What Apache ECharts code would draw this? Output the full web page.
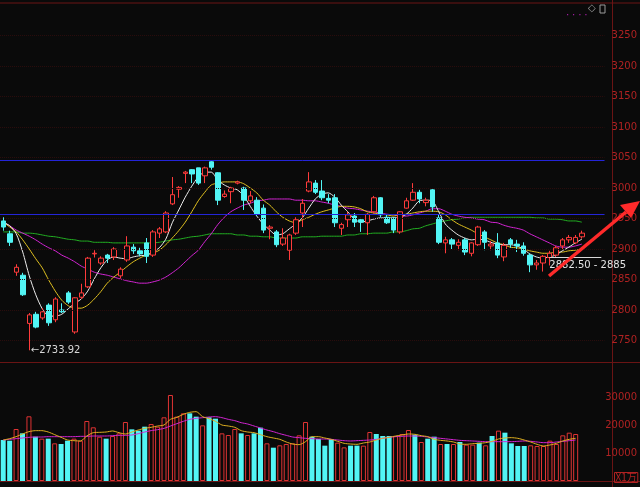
<!DOCTYPE html>
<html><head><meta charset="utf-8">
<script src="https://cdn.jsdelivr.net/npm/echarts@6/dist/echarts.min.js"></script>
<style>html,body{margin:0;padding:0;background:#0a0a0a;}#c{width:640px;height:487px;}</style>
</head><body><div id="c"></div>
<script>
// ---- data ----
const opens = [2946,2925,2862,2857,2778,2793,2787,2808,2784,2800,
2828,2764,2821,2838,2892,2877,2890,2887,2856,2882,
2903,2897,2910,2890,2926,2928,2974,2998,3024,3030,
3033,3020,3043,3025,2986,2994,3008,3000,2979,2980,
2967,2934,2928,2908,2898,2926,2959,2995,3008,2995,
2983,2984,2934,2948,2954,2948,2943,2961,2984,2952,
2951,2928,2967,2980,2993,2976,2997,2951,2910,2915,
2906,2915,2893,2907,2928,2905,2910,2887,2915,2908,
2905,2890,2874,2877,2886,2890,2905,2915,2910,2920];
const closes = [2936,2911,2870,2825,2792,2772,2797,2779,2818,2797,
2813,2820,2828,2885,2893,2885,2885,2900,2867,2905,
2897,2892,2888,2928,2933,2959,2989,3001,3026,3023,
3008,3033,3034,2980,2990,3000,3010,2980,2987,2957,
2931,2936,2907,2918,2923,2948,2975,3010,2993,2984,
2980,2943,2940,2956,2944,2944,2957,2984,2956,2943,
2931,2961,2979,2993,2982,2980,2969,2911,2915,2908,
2911,2895,2910,2936,2911,2908,2890,2906,2908,2905,
2893,2874,2877,2888,2893,2902,2915,2919,2919,2926];
const highs = [2952,2930,2875,2861,2795,2797,2803,2811,2821,2811,
2831,2821,2843,2887,2898,2888,2892,2903,2870,2921,
2908,2902,2918,2931,2936,2962,3018,3003,3028,3031,
3033,3035,3044,3026,2996,3002,3012,3002,2995,2985,
2973,2939,2931,2934,2925,2952,2982,3026,3013,3013,
2990,2990,2943,2961,2959,2951,2959,2987,2985,2956,
2952,2962,2984,3008,2997,2984,3000,2956,2920,2918,
2916,2918,2911,2938,2931,2913,2926,2910,2918,2915,
2911,2893,2882,2890,2897,2905,2918,2923,2923,2930];
const lows = [2930,2905,2856,2823,2733.92,2770,2784,2774,2780,2795,
2810,2761,2818,2836,2886,2874,2877,2882,2852,2879,
2892,2888,2877,2887,2918,2926,2972,2984,3008,3008,
3005,3008,3030,2972,2984,2975,3006,2964,2975,2954,
2926,2916,2903,2905,2882,2923,2936,2993,2990,2980,
2975,2936,2923,2936,2936,2928,2923,2958,2952,2941,
2926,2925,2966,2979,2975,2970,2961,2908,2893,2900,
2898,2890,2888,2905,2898,2898,2885,2880,2902,2895,
2889,2862,2866,2863,2873,2886,2900,2910,2908,2917];
const volumes = [14640,14400,18570,17020,23100,15830,15120,15120,13450,13210,
14400,15120,14400,21430,19170,15830,15120,16070,17020,21070,
18450,17980,19400,20360,19400,22740,30710,22980,24170,24170,
22980,19880,22740,22260,17020,16430,18570,17020,16430,17020,
19050,13450,11900,12740,13210,13450,16310,21070,15830,15000,
12620,15000,13690,12020,12620,12620,12620,17500,16790,16070,
16070,16070,16790,18210,16550,13930,15120,15830,13210,13210,
13210,13930,12980,12980,13690,12740,16070,17980,17260,13450,
12500,12500,12740,12500,12500,14400,13210,16310,17260,16790];
const ma5 = [2944,2938,2925,2895,2856,2825,2802,2790,2790,2793,
2802,2811,2818,2831,2851,2869,2882,2887,2885,2884,
2887,2889,2890,2895,2902,2916,2943,2964,2985,3003,
3018,3026,3026,3013,3005,3000,2997,2987,2970,2954,
2941,2931,2923,2925,2933,2941,2951,2967,2982,2990,
2992,2985,2972,2961,2949,2944,2946,2949,2951,2951,
2951,2952,2957,2967,2979,2980,2979,2961,2941,2931,
2923,2918,2915,2916,2915,2911,2908,2907,2907,2905,
2900,2892,2887,2885,2887,2890,2897,2903,2910,2916];
const ma10 = [2944,2936,2928,2915,2900,2884,2869,2849,2831,2816,
2807,2803,2803,2808,2818,2830,2844,2854,2862,2871,
2879,2885,2890,2893,2898,2907,2918,2930,2944,2961,
2979,2993,3005,3008,3010,3010,3010,3007,3000,2992,
2980,2972,2961,2952,2946,2943,2948,2952,2957,2961,
2964,2967,2970,2970,2969,2966,2961,2959,2957,2956,
2954,2956,2957,2959,2961,2962,2962,2961,2956,2948,
2941,2936,2931,2925,2920,2915,2910,2907,2903,2902,
2900,2897,2895,2893,2893,2895,2895,2897,2898,2900];
const ma20 = [2944,2938,2931,2926,2921,2915,2908,2902,2897,2890,
2885,2879,2872,2867,2862,2859,2857,2854,2851,2848,
2846,2844,2844,2846,2849,2854,2861,2869,2879,2889,
2898,2912,2925,2940,2952,2961,2967,2972,2975,2979,
2980,2982,2982,2982,2982,2980,2980,2979,2979,2977,
2975,2972,2970,2967,2966,2964,2962,2961,2959,2957,
2956,2954,2954,2956,2959,2962,2966,2966,2962,2957,
2954,2952,2951,2949,2948,2944,2943,2939,2936,2934,
2931,2925,2920,2915,2910,2905,2903,2903,2905,2908];
const ma60 = [2928,2928,2928,2926,2926,2925,2923,2921,2920,2918,
2916,2915,2913,2913,2911,2911,2911,2910,2910,2910,
2910,2910,2910,2910,2911,2913,2915,2916,2918,2920,
2921,2923,2925,2925,2925,2925,2923,2923,2921,2921,
2920,2920,2918,2918,2918,2918,2920,2920,2920,2921,
2921,2921,2921,2923,2923,2925,2925,2926,2926,2926,
2928,2928,2930,2933,2934,2938,2941,2944,2946,2948,
2949,2951,2952,2952,2952,2952,2952,2952,2952,2952,
2952,2952,2951,2951,2949,2949,2948,2946,2946,2944];
const volMa5 = [14640,15120,15830,16790,17620,17980,17980,17500,16550,15600,
14640,14400,14290,16070,17260,17380,17500,17860,17260,16790,
17500,18210,18810,19170,19640,20000,22020,22740,23810,24520,
24760,22980,22260,21310,20000,19640,19170,17980,17500,17260,
16550,15830,15360,14880,13930,13210,12980,14050,15830,15830,
15360,14880,14170,13450,13210,13100,13570,13930,14640,15240,
15600,16070,16430,16790,16670,16190,15830,14880,14520,14290,
13930,13210,13100,13330,13450,13690,14170,15000,15360,15480,
15240,14640,13930,13100,12500,12860,13450,14290,14880,15240];
const volMa10 = [14640,14880,15120,15360,15600,15710,15710,15830,15830,15830,
15830,15830,15950,15950,16070,16070,16070,16190,16310,16310,
16430,16900,17500,17980,18330,18810,19640,20480,21310,22020,
22380,22620,22860,22980,22620,22020,21550,20830,20360,19640,
18930,18210,17620,16900,16310,15710,15480,15240,15120,15000,
15000,14880,14640,14400,14290,14400,14520,14640,14880,15240,
15600,15830,15950,16070,16070,15950,15710,15480,15240,15000,
14760,14520,14400,14290,14170,14050,14050,14050,14050,14050,
14170,14290,14170,13930,13690,13690,13930,14170,14400,14640];
const priceTicks = [2750,2800,2850,2900,2950,3000,3050,3100,3150,3200,3250];
const volTicks = [10000,20000,30000];
const levelLines = [3046, 2957];
const lowMark = {index: 4, value: 2733.92, text: '2733.92'};
const rangeMark = {from: 84, to: 92, value: 2887, text: '2882.50 - 2885'};
const slotCount = 93; // 90 trading days + 3 empty slots on the right
const days = [];
for (let i = 1; i <= slotCount; i++) days.push('D' + i);

// ---- build ----
const UP = '#ff3b3b', DOWN = '#52f5f5', BG = '#0a0a0a', AX = '#6a1414', LBL = '#b02222';
const candles = opens.map((o, i) => [o, closes[i], lows[i], highs[i]]);
const volData = volumes.map((v, i) => ({
  value: v,
  itemStyle: closes[i] >= opens[i]
    ? {color: BG, borderColor: '#e03434', borderWidth: 1}
    : {color: DOWN, borderWidth: 0}
}));
const lineS = (name, data, color, xi, yi) => ({
  name, type: 'line', data, xAxisIndex: xi, yAxisIndex: yi, symbol: 'none',
  smooth: 0.25, lineStyle: {color, width: 1}, silent: true, z: 3
});

const chart = echarts.init(document.getElementById('c'), null, {renderer: 'canvas'});
chart.setOption({
  animation: false,
  backgroundColor: BG,
  grid: [
    {left: 0, right: 28, top: 5, height: 366},
    {left: 0, right: 28, top: 369, height: 112}
  ],
  xAxis: [
    {type: 'category', data: days, gridIndex: 0, boundaryGap: true, show: false},
    {type: 'category', data: days, gridIndex: 1, boundaryGap: true, show: false}
  ],
  yAxis: [
    {type: 'value', gridIndex: 0, position: 'right', min: 2700, max: 3300, interval: 50,
     axisLine: {show: false},
     axisTick: {show: false},
     splitLine: {show: false},
     axisLabel: {color: LBL, fontSize: 10, margin: 7, fontFamily: 'DejaVu Sans',
       formatter: v => priceTicks.includes(v) ? String(v) : ''}},
    {type: 'value', gridIndex: 1, position: 'right', min: 0, max: 40000, interval: 10000,
     axisLine: {show: false},
     axisTick: {show: false},
     splitLine: {show: false},
     axisLabel: {color: LBL, fontSize: 10, margin: 7, fontFamily: 'DejaVu Sans',
       formatter: v => volTicks.includes(v) ? String(v) : ''}}
  ],
  series: [
    {
      type: 'candlestick', data: candles, xAxisIndex: 0, yAxisIndex: 0, barWidth: 5, z: 4,
      itemStyle: {color: BG, color0: DOWN, borderColor: UP, borderColor0: DOWN, borderWidth: 1},
      markLine: {
        silent: true, symbol: ['none', 'none'], animation: false,
        label: {show: false},
        data: [
          ...priceTicks.map(v => ({yAxis: v, lineStyle: {color: '#2a0c0c', type: 'dotted', width: 1}})),
          ...levelLines.map(v => ({yAxis: v, lineStyle: {color: '#2424d8', type: 'solid', width: 1}})),
          [
            {coord: [rangeMark.from, rangeMark.value],
             lineStyle: {color: '#d8d8d8', type: 'solid', width: 1},
             label: {show: true, position: 'insideStartBottom', formatter: rangeMark.text,
               color: '#e4e4e4', fontSize: 10, fontFamily: 'DejaVu Sans', distance: [0, 3]}},
            {coord: [rangeMark.to, rangeMark.value]}
          ]
        ]
      },
      markPoint: {
        silent: true, animation: false,
        data: [{coord: [lowMark.index, lowMark.value], symbol: 'circle', symbolSize: 1,
          itemStyle: {color: 'rgba(0,0,0,0)'},
          label: {show: true, position: 'right', distance: 1, formatter: '←' + lowMark.text,
            color: '#d8d8d8', fontSize: 10, fontFamily: 'DejaVu Sans'}}]
      }
    },
    lineS('MA60', ma60, '#22b022', 0, 0),
    lineS('MA20', ma20, '#d424d4', 0, 0),
    lineS('MA10', ma10, '#e0c020', 0, 0),
    lineS('MA5', ma5, '#ececec', 0, 0),
    {type: 'bar', data: volData, xAxisIndex: 1, yAxisIndex: 1, barWidth: 5, z: 2, silent: true},
    lineS('VMA10', volMa10, '#d424d4', 1, 1),
    lineS('VMA5', volMa5, '#e0b020', 1, 1)
  ],
  graphic: [
    {type: 'line', shape: {x1: 0, y1: 3, x2: 640, y2: 3}, style: {stroke: AX, lineWidth: 1}, silent: true},
    {type: 'line', shape: {x1: 0, y1: 362.5, x2: 640, y2: 362.5}, style: {stroke: AX, lineWidth: 1}, silent: true},
    {type: 'line', shape: {x1: 0, y1: 481.5, x2: 640, y2: 481.5}, style: {stroke: AX, lineWidth: 1}, silent: true},
    {type: 'line', shape: {x1: 612.5, y1: 0, x2: 612.5, y2: 487}, style: {stroke: AX, lineWidth: 1}, silent: true},
    {type: 'text', left: 614, top: 472, silent: true,
     style: {text: 'X1万', fill: LBL, fontSize: 10, fontFamily: 'Noto Sans CJK SC',
       borderColor: LBL, borderWidth: 1, padding: [0, 1]}},
    {type: 'text', left: 588, top: 3, silent: true, style: {text: '◇', fill: '#9a9a9a', fontSize: 10}},
    {type: 'rect', shape: {x: 600, y: 5, width: 5, height: 8}, style: {stroke: '#9a9a9a', fill: 'none', lineWidth: 1}, silent: true},
    {type: 'text', left: 566, top: 10, silent: true, style: {text: '· · · ·', fill: '#c020c0', fontSize: 10}},
    {type: 'line', shape: {x1: 549, y1: 276, x2: 626, y2: 212}, style: {stroke: '#ff2a2a', lineWidth: 3.5}, silent: true, z: 10},
    {type: 'polygon', shape: {points: [[640, 201], [631, 218], [620, 205]]}, style: {fill: '#ff2a2a'}, silent: true, z: 10}
  ]
});
</script></body></html>
